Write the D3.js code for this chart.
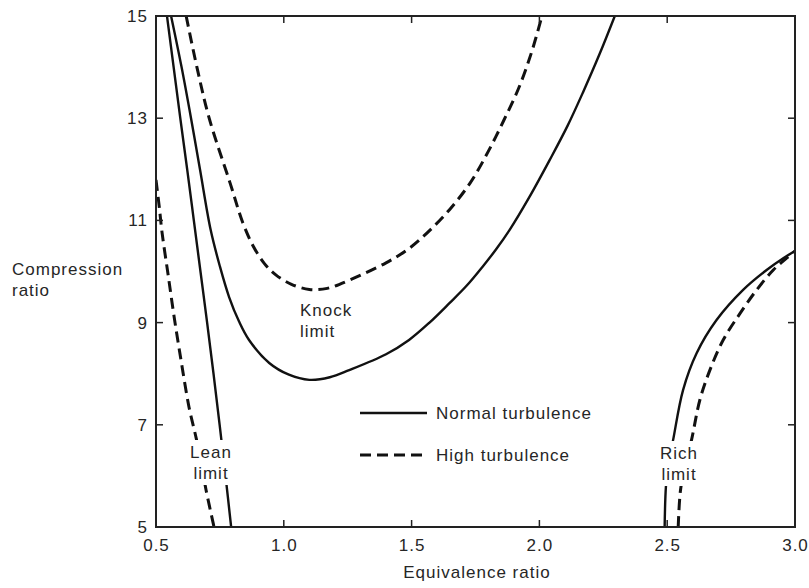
<!DOCTYPE html>
<html>
<head>
<meta charset="utf-8">
<script src="https://cdn.jsdelivr.net/npm/d3@7"></script>
<style>
  html, body { margin: 0; padding: 0; background: #fff; }
  svg { display: block; }
  text { font-family: "Liberation Sans", Arial, Helvetica, sans-serif; fill: #262626; }
</style>
</head>
<body>
<svg id="chart" width="809" height="588"></svg>
<script>
// Equivalence ratio (x) vs. compression ratio (y) for each limit curve
const leanNormal = [[0.543,15],[0.569,14],[0.595,13],[0.622,12],[0.648,11],[0.674,10],[0.700,9],[0.725,8],[0.749,7],[0.772,6],[0.794,5]];
const leanHigh = [[0.5,11.79],[0.512,11.3],[0.524,10.75],[0.547,9.95],[0.571,9.11],[0.600,8.2],[0.629,7.35],[0.658,6.72],[0.680,6.15],[0.696,5.72],[0.727,5]];
const knockNormal = [[0.559,15],[0.600,14],[0.637,13],[0.672,12],[0.714,10.81],[0.750,10.1],[0.786,9.5],[0.825,9.02],[0.864,8.66],[0.943,8.21],[1.02,7.98],[1.10,7.88],[1.18,7.93],[1.256,8.07],[1.40,8.38],[1.49,8.66],[1.57,9.0],[1.648,9.38],[1.715,9.72],[1.777,10.09],[1.83,10.43],[1.883,10.81],[1.96,11.45],[2.04,12.18],[2.11,12.85],[2.17,13.5],[2.235,14.25],[2.295,15]];
const knockHigh = [[0.618,15],[0.660,14],[0.708,13.0],[0.790,11.73],[0.840,10.95],[0.880,10.5],[0.925,10.15],[0.970,9.93],[1.03,9.75],[1.10,9.65],[1.17,9.67],[1.256,9.83],[1.40,10.17],[1.49,10.45],[1.57,10.80],[1.65,11.22],[1.73,11.74],[1.80,12.35],[1.86,12.95],[1.92,13.6],[1.97,14.3],[2.01,15]];
const richNormal = [[2.49,5],[2.495,5.79],[2.505,6.25],[2.523,6.70],[2.562,7.68],[2.615,8.40],[2.693,9.05],[2.797,9.64],[2.889,10.03],[2.954,10.26],[3.0,10.40]];
const richHigh = [[2.543,5],[2.552,5.72],[2.57,6.2],[2.595,6.70],[2.628,7.49],[2.667,8.07],[2.719,8.66],[2.785,9.18],[2.85,9.64],[2.915,10.03],[2.967,10.26],[3.0,10.40]];

const xTicks = [0.5, 1.0, 1.5, 2.0, 2.5, 3.0];
const yTicks = [5, 7, 9, 11, 13, 15];
const legendItems = ["Normal turbulence", "High turbulence"];

const svg = d3.select("#chart");
const plotL = 156, plotR = 795, plotT = 16, plotB = 527;

const x = d3.scaleLinear().domain([0.5, 3.0]).range([plotL, plotR]);
const y = d3.scaleLinear().domain([5, 15]).range([plotB, plotT]);

const solidStyle = { width: 2.4, dash: null };
const dashStyle = { width: 3, dash: "11,6" };

svg.append("defs").append("clipPath").attr("id", "plot")
  .append("rect").attr("x", plotL).attr("y", plotT)
  .attr("width", plotR - plotL).attr("height", plotB - plotT);

const line = d3.line().x(d => x(d[0])).y(d => y(d[1])).curve(d3.curveCatmullRom.alpha(0.5));

const curves = [
  [leanNormal, solidStyle], [knockNormal, solidStyle], [richNormal, solidStyle],
  [leanHigh, dashStyle], [knockHigh, dashStyle], [richHigh, dashStyle]
];
const g = svg.append("g").attr("clip-path", "url(#plot)");
curves.forEach(([data, st]) => {
  g.append("path").attr("d", line(data))
    .attr("fill", "none").attr("stroke", "#111")
    .attr("stroke-width", st.width)
    .attr("stroke-dasharray", st.dash)
    .attr("stroke-linecap", "butt");
});

// Axes: ticks point inward on all four sides
const fontSize = 17;
const spacing = "1px";
const axisFont = sel => sel.selectAll("text")
  .style("font-size", fontSize + "px").style("letter-spacing", spacing)
  .attr("fill", "#262626");

const inner = [7, 9, 11, 13];
const innerX = [1.0, 1.5, 2.0, 2.5];

svg.append("g").attr("transform", `translate(${plotL},0)`)
  .call(d3.axisLeft(y).tickValues(yTicks).tickFormat(d3.format("d")).tickSize(0).tickPadding(8))
  .call(a => a.select(".domain").remove())
  .call(axisFont);

svg.append("g").attr("transform", `translate(0,${plotB})`)
  .call(d3.axisBottom(x).tickValues(xTicks).tickFormat(d3.format(".1f")).tickSize(0).tickPadding(12))
  .call(a => a.select(".domain").remove())
  .call(axisFont);

const tickLen = 7;
const ticks = svg.append("g").attr("stroke", "#222").attr("stroke-width", 1.5);
inner.forEach(v => {
  ticks.append("line").attr("x1", plotL).attr("x2", plotL + tickLen).attr("y1", y(v)).attr("y2", y(v));
  ticks.append("line").attr("x1", plotR).attr("x2", plotR - tickLen).attr("y1", y(v)).attr("y2", y(v));
});
innerX.forEach(v => {
  ticks.append("line").attr("x1", x(v)).attr("x2", x(v)).attr("y1", plotB).attr("y2", plotB - tickLen);
  ticks.append("line").attr("x1", x(v)).attr("x2", x(v)).attr("y1", plotT).attr("y2", plotT + tickLen);
});

svg.append("rect").attr("x", plotL).attr("y", plotT)
  .attr("width", plotR - plotL).attr("height", plotB - plotT)
  .attr("fill", "none").attr("stroke", "#222").attr("stroke-width", 2);

// Curve labels, with a white backing so the lines break around them
function label(lines, cx, cy, anchor, knockout) {
  const grp = svg.append("g");
  const t = grp.append("text").attr("text-anchor", anchor)
    .style("font-size", fontSize + "px").style("letter-spacing", spacing);
  lines.forEach((s, i) => {
    t.append("tspan").attr("x", cx).attr("y", cy + i * 21).text(s);
  });
  if (knockout) {
    const b = t.node().getBBox();
    grp.insert("rect", "text").attr("x", b.x - 3).attr("y", b.y - 3)
      .attr("width", b.width + 6).attr("height", b.height + 5).attr("fill", "#fff");
  }
}
label(["Knock", "limit"], 300, 316, "start", false);
label(["Lean", "limit"], 211, 458, "middle", true);
label(["Rich", "limit"], 679, 459, "middle", true);

// Legend
const leg = svg.append("g");
legendItems.forEach((name, i) => {
  const st = i === 0 ? solidStyle : dashStyle;
  const ly = 413 + i * 42;
  leg.append("line").attr("x1", 360).attr("x2", 427).attr("y1", ly).attr("y2", ly)
    .attr("stroke", "#111").attr("stroke-width", st.width).attr("stroke-dasharray", st.dash);
  leg.append("text").attr("x", 436).attr("y", ly).attr("dy", "0.35em")
    .style("font-size", fontSize + "px").style("letter-spacing", spacing).text(name);
});

// Axis titles
svg.append("text").attr("x", 477).attr("y", 578).attr("text-anchor", "middle")
  .style("font-size", fontSize + "px").style("letter-spacing", spacing).text("Equivalence ratio");
const yt = svg.append("text").style("font-size", fontSize + "px").style("letter-spacing", spacing);
yt.append("tspan").attr("x", 12).attr("y", 275).text("Compression");
yt.append("tspan").attr("x", 12).attr("y", 296).text("ratio");
</script>
</body>
</html>
